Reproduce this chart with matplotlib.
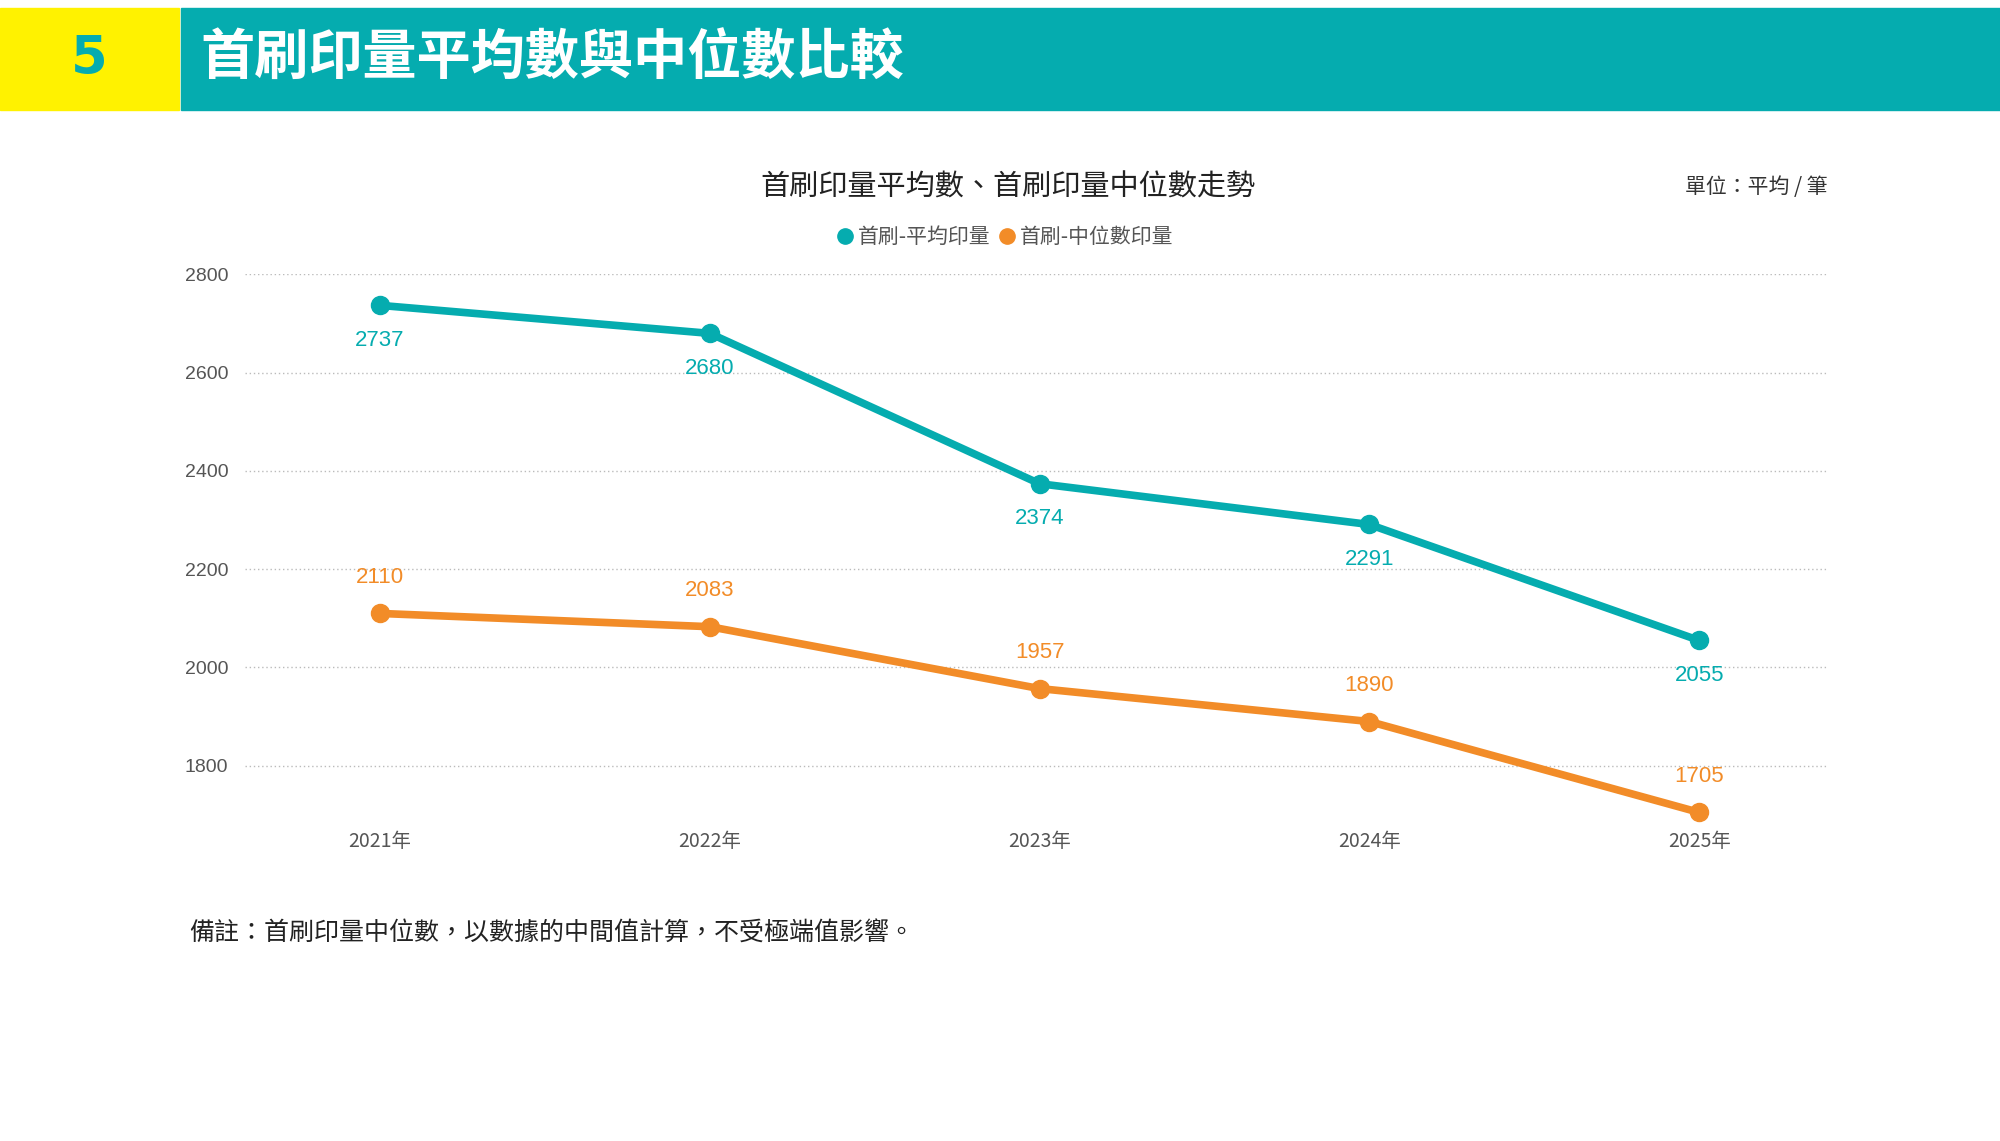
import matplotlib
matplotlib.use("Agg")
import matplotlib.pyplot as plt
from matplotlib.patches import Rectangle

plt.rcParams['font.family'] = ['Noto Sans CJK TC', 'DejaVu Sans']

years = ["2021年", "2022年", "2023年", "2024年", "2025年"]
mean_vals = [2737, 2680, 2374, 2291, 2055]
median_vals = [2110, 2083, 1957, 1890, 1705]
yticks = [1800, 2000, 2200, 2400, 2600, 2800]

TEAL = "#05ACAF"
ORANGE = "#F28C28"

fig = plt.figure(figsize=(20, 11.41), dpi=100)

# header
fig.patches.append(Rectangle((0, 0.904), 0.0893, 0.089, transform=fig.transFigure, color="#FFF200"))
fig.patches.append(Rectangle((0.0906, 0.904), 0.91, 0.089, transform=fig.transFigure, color=TEAL))
fig.text(0.0446, 0.948, "5", ha="center", va="center", fontsize=38, fontweight="bold", color=TEAL, family="DejaVu Sans")
fig.text(0.1, 0.948, "首刷印量平均數與中位數比較", ha="left", va="center", fontsize=39, fontweight="bold", color="white")

ax = fig.add_axes([0.1224, 0.2841, 0.7915, 0.4754])
x = list(range(len(years)))
ax.plot(x, mean_vals, color=TEAL, lw=5.5, marker="o", ms=13, label="首刷-平均印量", zorder=3, clip_on=False)
ax.plot(x, median_vals, color=ORANGE, lw=5.5, marker="o", ms=13, label="首刷-中位數印量", zorder=3, clip_on=False)
for i, v in enumerate(mean_vals):
    ax.annotate(str(v), (i, v), xytext=(0, -25), textcoords="offset points", ha="center", va="center", color=TEAL, fontsize=16, family="Liberation Sans")
for i, v in enumerate(median_vals):
    ax.annotate(str(v), (i, v), xytext=(0, 26), textcoords="offset points", ha="center", va="center", color=ORANGE, fontsize=16, family="Liberation Sans")

ax.set_xlim(-0.41, 4.39)
ax.set_ylim(1696, 2800)
ax.set_yticks(yticks)
ax.set_yticklabels([str(t) for t in yticks], fontsize=14, color="#555555", family="Liberation Sans")
ax.set_xticks(x)
ax.set_xticklabels(years, fontsize=14, color="#555555")
ax.tick_params(length=0, pad=12)
ax.tick_params(axis="x", pad=10)
ax.grid(axis="y", color="#BBBBBB", linestyle=(0, (1, 2)), lw=1)
for s in ax.spines.values():
    s.set_visible(False)

fig.text(0.504, 0.836, "首刷印量平均數、首刷印量中位數走勢", ha="center", va="center", fontsize=21, color="#222222")
fig.text(0.9139, 0.836, "單位：平均 / 筆", ha="right", va="center", fontsize=15, color="#333333")
fig.legend(loc="center", bbox_to_anchor=(0.503, 0.792), ncol=2, frameon=False, fontsize=15,
           handlelength=0.6, handletextpad=0.3, columnspacing=0.5, labelcolor="#555555")
leg = fig.legends[0]
for h in leg.legend_handles:
    h.set_linestyle("none")
    h.set_markersize(11)

fig.text(0.0944, 0.182, "備註：首刷印量中位數，以數據的中間值計算，不受極端值影響。", ha="left", va="center", fontsize=18, color="#222222")

fig.savefig("out.png", dpi=100, facecolor="white")
